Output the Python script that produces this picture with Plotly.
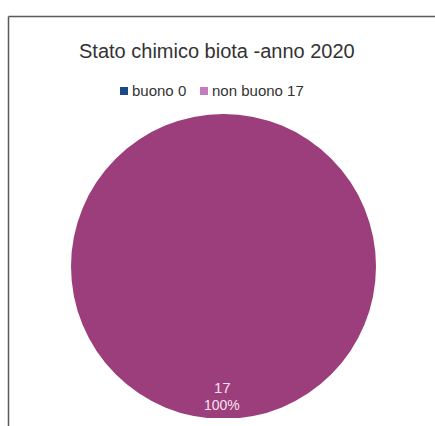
import plotly.graph_objects as go

# Data
labels = ["buono", "non buono"]
values = [0, 17]
slice_colors = ["#1b4a87", "#9c3e7b"]
legend_colors = ["#1b4a87", "#c47cbf"]
title_text = "Stato chimico biota -anno 2020"

W, H = 435, 426
total = sum(values)

fig = go.Figure()

# Pie
cx, cy, r = 223.5, 266.5, 152.5
fig.add_trace(go.Pie(
    labels=labels, values=values, sort=False, direction="clockwise",
    marker=dict(colors=slice_colors, line=dict(width=0)),
    textinfo="none", showlegend=False, hoverinfo="label+value+percent",
    domain=dict(x=[(cx - r) / W, (cx + r) / W],
                y=[(H - cy - r) / H, (H - cy + r) / H]),
))

shapes = []
annotations = []

# bottom crop
shapes.append(dict(type="rect", xref="paper", yref="paper",
                   x0=12 / W, x1=1.0, y0=0, y1=(H - 418) / H,
                   line=dict(width=0), fillcolor="white", layer="above"))
# Frame (top and left borders)
shapes.append(dict(type="line", xref="paper", yref="paper",
                   x0=8.5 / W, x1=1.0, y0=1 - 16.5 / H, y1=1 - 16.5 / H,
                   line=dict(color="#5a5a5a", width=1.5), layer="above"))
shapes.append(dict(type="line", xref="paper", yref="paper",
                   x0=8.5 / W, x1=8.5 / W, y0=0, y1=1 - 16.5 / H,
                   line=dict(color="#5a5a5a", width=1.5), layer="above"))

# Title
annotations.append(dict(text=title_text, xref="paper", yref="paper",
                        x=217 / W, y=1 - 51 / H, xanchor="center", yanchor="middle",
                        showarrow=False, font=dict(family="Liberation Sans", size=20, color="#333333")))

# Custom legend
leg_x = [120, 200]
for i, lab in enumerate(labels):
    x0 = leg_x[i]
    shapes.append(dict(type="rect", xref="paper", yref="paper",
                       x0=x0 / W, x1=(x0 + 8) / W,
                       y0=1 - 95 / H, y1=1 - 87 / H,
                       fillcolor=legend_colors[i], line=dict(width=0)))
    annotations.append(dict(text=f"{lab} {values[i]}", xref="paper", yref="paper",
                            x=(x0 + 10) / W, y=1 - 90.5 / H, xanchor="left", yanchor="middle",
                            showarrow=False,
                            font=dict(family="Liberation Sans", size=15, color="#333333")))

# Slice label
for i, v in enumerate(values):
    if v > 0:
        pct = round(100 * v / total)
        annotations.append(dict(text=str(v), xref="paper", yref="paper",
                                x=223 / W, y=1 - 387 / H, xanchor="center", yanchor="middle",
                                showarrow=False,
                                font=dict(family="Liberation Sans", size=15, color="#f6e2f2")))
        annotations.append(dict(text=f"{pct}%", xref="paper", yref="paper",
                                x=222 / W, y=1 - 405 / H, xanchor="center", yanchor="middle",
                                showarrow=False,
                                font=dict(family="Liberation Sans", size=14, color="#f6e2f2")))

fig.update_layout(
    width=W, height=H, margin=dict(l=0, r=0, t=0, b=0),
    paper_bgcolor="white", plot_bgcolor="white",
    shapes=shapes, annotations=annotations, showlegend=False,
)

fig.write_html("out.html", config={"displayModeBar": False})
